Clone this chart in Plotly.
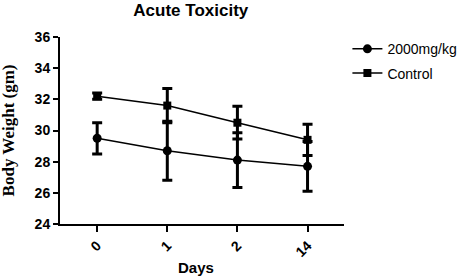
import plotly.graph_objects as go

days = ["0", "1", "2", "14"]
dose_mean = [29.5, 28.7, 28.1, 27.7]
dose_err = [1.0, 1.9, 1.75, 1.6]
ctrl_mean = [32.2, 31.6, 30.5, 29.4]
ctrl_err = [0.2, 1.1, 1.05, 1.0]

fig = go.Figure()
fig.add_trace(go.Scatter(
    x=days, y=dose_mean, name="2000mg/kg", mode="lines+markers", legendgroup="a",
    line=dict(color="black", width=1.5),
    marker=dict(symbol="circle", size=9, color="black"),
    error_y=dict(type="data", array=dose_err, color="black", thickness=3, width=5),
))
fig.add_trace(go.Scatter(
    x=days, y=ctrl_mean, name="Control", mode="lines+markers", legendgroup="b",
    line=dict(color="black", width=1.5),
    marker=dict(symbol="square", size=8, color="black"),
    error_y=dict(type="data", array=ctrl_err, color="black", thickness=3, width=5),
))

fig.update_layout(
    width=470, height=276,
    margin=dict(l=60, r=126, t=37, b=52, autoexpand=False),
    paper_bgcolor="white", plot_bgcolor="white",
    font=dict(family="Arial, Liberation Sans", color="black", size=12),
    title=dict(text="<b>Acute Toxicity</b>", x=0.406, xanchor="center", y=0.985, yanchor="top",
               font=dict(size=17, family="Arial, Liberation Sans")),
    legend=dict(x=1.012, y=1.02, xanchor="left", yanchor="top",
                font=dict(size=14), bgcolor="rgba(0,0,0,0)", tracegroupgap=3,
                traceorder="grouped", itemwidth=30),
    showlegend=True,
    annotations=[
        dict(text="<b>Days</b>", xref="paper", yref="paper", x=0.48, y=-0.235,
             xanchor="center", yanchor="middle", showarrow=False, font=dict(size=15)),
        dict(text="<b>Body Weight (gm)</b>", xref="paper", yref="paper", x=-0.18, y=0.5,
             xanchor="center", yanchor="middle", showarrow=False, textangle=-90,
             font=dict(size=17, family="Liberation Serif, Times New Roman, serif")),
    ],
)
fig.update_xaxes(
    type="category", range=[-0.53, 3.52], automargin=False,
    showline=True, linecolor="black", linewidth=2,
    ticks="outside", tickcolor="black", tickwidth=2, ticklen=6,
    tickangle=-45, tickfont=dict(size=14, weight="bold"),
    showgrid=False, zeroline=False,
)
fig.update_yaxes(
    range=[24, 36], dtick=2, automargin=False,
    showline=True, linecolor="black", linewidth=2,
    ticks="outside", tickcolor="black", tickwidth=2, ticklen=5,
    tickfont=dict(size=14, weight="bold"),
    showgrid=False, zeroline=False,
)
fig.write_html("out.html", config={"displayModeBar": False},
               post_script="document.body.style.margin='0';")
